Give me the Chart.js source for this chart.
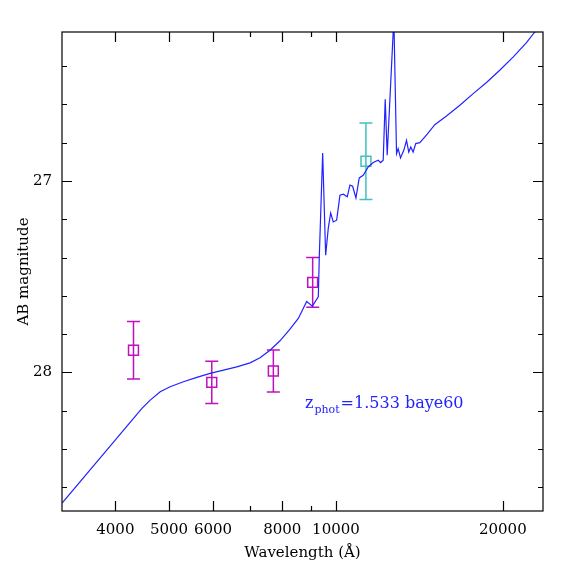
<!DOCTYPE html>
<html>
<head>
<meta charset="utf-8">
<script src="https://cdn.jsdelivr.net/npm/chart.js@4.4.1/dist/chart.umd.min.js"></script>
<style>
  html, body { margin: 0; padding: 0; background: #fff; }
  #wrap { width: 574px; height: 574px; }
</style>
</head>
<body>
<div id="wrap"><canvas id="sedChart" width="574" height="574"></canvas></div>
<script>
/* ── SED DATA ── */
// model spectrum (wavelength in Angstrom, AB mag)
const specLambda = [3209, 4467, 4623, 4819, 5022, 5307, 5611, 5929, 6267, 6624,
  6998, 7296, 7604, 7926, 8262, 8552, 8856, 9065, 9293, 9331,
  9463, 9581, 9685, 9783, 9888, 10029, 10167, 10308, 10481, 10598,
  10717, 10865, 11015, 11199, 11434, 11674, 11919, 12038, 12168, 12270,
  12372, 12718, 12861, 12947, 13076, 13255, 13405, 13532, 13645, 13777,
  13930, 14164, 14562, 15075, 15827, 16729, 17682, 18688, 19745, 20868,
  22062, 22840, 23630];
const specMag = [28.681, 28.188, 28.145, 28.101, 28.075, 28.049, 28.026, 28.005, 27.988, 27.971,
  27.950, 27.924, 27.884, 27.835, 27.774, 27.718, 27.630, 27.654, 27.605, 27.397,
  26.854, 27.388, 27.248, 27.167, 27.214, 27.205, 27.075, 27.069, 27.083, 27.022,
  27.028, 27.089, 26.984, 26.970, 26.927, 26.904, 26.892, 26.904, 26.892, 26.574,
  26.866, 26.150, 26.857, 26.831, 26.880, 26.840, 26.788, 26.849, 26.823, 26.849,
  26.805, 26.800, 26.761, 26.706, 26.661, 26.605, 26.544, 26.486, 26.422, 26.353,
  26.278, 26.222, 26.172];

// photometry points (magenta) and the extra one (cyan)
const photLambda = [4313, 5970, 7710, 9078];
const photMag = [27.884, 28.052, 27.993, 27.530];
const photErr = [0.15, 0.11, 0.11, 0.13];

const extraLambda = [11326];
const extraMag = [26.897];
const extraErr = [0.20];

// axis ticks
const xTicks = [4000, 5000, 6000, 7000, 8000, 9000, 10000, 20000];
const xLabels = [4000, 5000, 6000, 8000, 10000, 20000];
const yTicks = [26.4, 26.6, 26.8, 27.0, 27.2, 27.4, 27.6, 27.8, 28.0, 28.2, 28.4, 28.6];
const yLabels = [27, 28];

const labelText = "1.533 baye60";

const MAGENTA = "#c010c0";
const CYAN = "#40c0c0";
const BLUE = "#2222ff";

Chart.defaults.font.family = "DejaVu Serif";
Chart.defaults.font.size = 15;
Chart.defaults.color = "#000";

const toPts = (xs, ys) => xs.map((x, i) => ({ x: x, y: ys[i] }));

// frame, inward ticks, error bars and the redshift note
const sedDecor = {
    id: "sedDecor",
    beforeDatasetsDraw(chart) {
        const { ctx, scales: { x, y } } = chart;
        ctx.save();
        ctx.lineWidth = 1.5;
        const bars = [
            [photLambda, photMag, photErr, MAGENTA],
            [extraLambda, extraMag, extraErr, CYAN],
        ];
        bars.forEach(([ls, ms, es, col]) => {
            ctx.strokeStyle = col;
            ls.forEach((l, i) => {
                const px = x.getPixelForValue(l);
                const top = y.getPixelForValue(ms[i] - es[i]);
                const bot = y.getPixelForValue(ms[i] + es[i]);
                ctx.beginPath();
                ctx.moveTo(px, top); ctx.lineTo(px, bot);
                ctx.moveTo(px - 6.5, top); ctx.lineTo(px + 6.5, top);
                ctx.moveTo(px - 6.5, bot); ctx.lineTo(px + 6.5, bot);
                ctx.stroke();
            });
        });
        ctx.restore();
    },
    afterDraw(chart) {
        const { ctx, chartArea: a, scales: { x, y } } = chart;
        ctx.save();
        ctx.strokeStyle = "#000";
        ctx.lineWidth = 1.2;
        ctx.strokeRect(a.left, a.top, a.right - a.left, a.bottom - a.top);

        ctx.beginPath();
        xTicks.forEach((v) => {
            const px = Math.round(x.getPixelForValue(v)) + 0.5;
            const len = xLabels.includes(v) ? 10 : 5;
            ctx.moveTo(px, a.bottom); ctx.lineTo(px, a.bottom - len);
            ctx.moveTo(px, a.top); ctx.lineTo(px, a.top + len);
        });
        yTicks.forEach((v) => {
            const py = Math.round(y.getPixelForValue(v)) + 0.5;
            const len = yLabels.some((l) => Math.abs(l - v) < 1e-6) ? 10 : 5;
            ctx.moveTo(a.left, py); ctx.lineTo(a.left + len, py);
            ctx.moveTo(a.right, py); ctx.lineTo(a.right - len, py);
        });
        ctx.stroke();

        // z_phot note
        let tx = 305, ty = 408;
        ctx.fillStyle = BLUE;
        ctx.textBaseline = "alphabetic";
        ctx.font = "16px 'DejaVu Serif'";
        ctx.fillText("z", tx, ty);
        tx += ctx.measureText("z").width + 1;
        ctx.font = "11px 'DejaVu Serif'";
        ctx.fillText("phot", tx, ty + 5);
        tx += ctx.measureText("phot").width + 1;
        ctx.font = "16px 'DejaVu Serif'";
        ctx.fillText("=" + labelText, tx, ty);
        ctx.restore();
    },
};

const ctx = document.getElementById("sedChart").getContext("2d");

new Chart(ctx, {
    type: "scatter",
    data: {
        datasets: [
            {
                label: "model",
                data: toPts(specLambda, specMag),
                showLine: true,
                borderColor: BLUE,
                borderWidth: 1.2,
                pointRadius: 0,
                tension: 0,
            },
            {
                label: "phot",
                data: toPts(photLambda, photMag),
                pointStyle: "rect",
                pointRadius: 7,
                borderColor: MAGENTA,
                backgroundColor: "rgba(0,0,0,0)",
                borderWidth: 1.5,
            },
            {
                label: "extra",
                data: toPts(extraLambda, extraMag),
                pointStyle: "rect",
                pointRadius: 7,
                borderColor: CYAN,
                backgroundColor: "rgba(0,0,0,0)",
                borderWidth: 1.5,
            },
        ],
    },
    options: {
        responsive: false,
        animation: false,
        devicePixelRatio: 1,
        layout: { padding: { top: 32, right: 31, left: 0, bottom: 0 } },
        plugins: {
            legend: { display: false },
            tooltip: { enabled: false },
        },
        scales: {
            x: {
                type: "logarithmic",
                min: 3205,
                max: 23630,
                grid: { display: false, drawTicks: false },
                border: { display: false },
                afterBuildTicks: (s) => { s.ticks = xTicks.map((v) => ({ value: v })); },
                afterFit: (s) => { s.height = 63; },
                ticks: {
                    autoSkip: false,
                    maxRotation: 0,
                    padding: 10,
                    callback: (v) => (xLabels.includes(v) ? String(v) : ""),
                },
                title: {
                    display: true,
                    text: "Wavelength (Å)",
                    padding: { top: 0, bottom: 12 },
                },
            },
            y: {
                type: "linear",
                reverse: true,
                min: 26.222,
                max: 28.724,
                grid: { display: false, drawTicks: false },
                border: { display: false },
                afterBuildTicks: (s) => { s.ticks = yTicks.map((v) => ({ value: v })); },
                afterFit: (s) => { s.width = 62; },
                ticks: {
                    autoSkip: false,
                    padding: 10,
                    callback: (v) => {
                        const hit = yLabels.find((l) => Math.abs(l - v) < 1e-6);
                        return hit === undefined ? "" : String(hit);
                    },
                },
                title: {
                    display: true,
                    text: "AB magnitude",
                    padding: { top: 15, bottom: 0 },
                },
            },
        },
    },
    plugins: [sedDecor],
});
</script>
</body>
</html>
